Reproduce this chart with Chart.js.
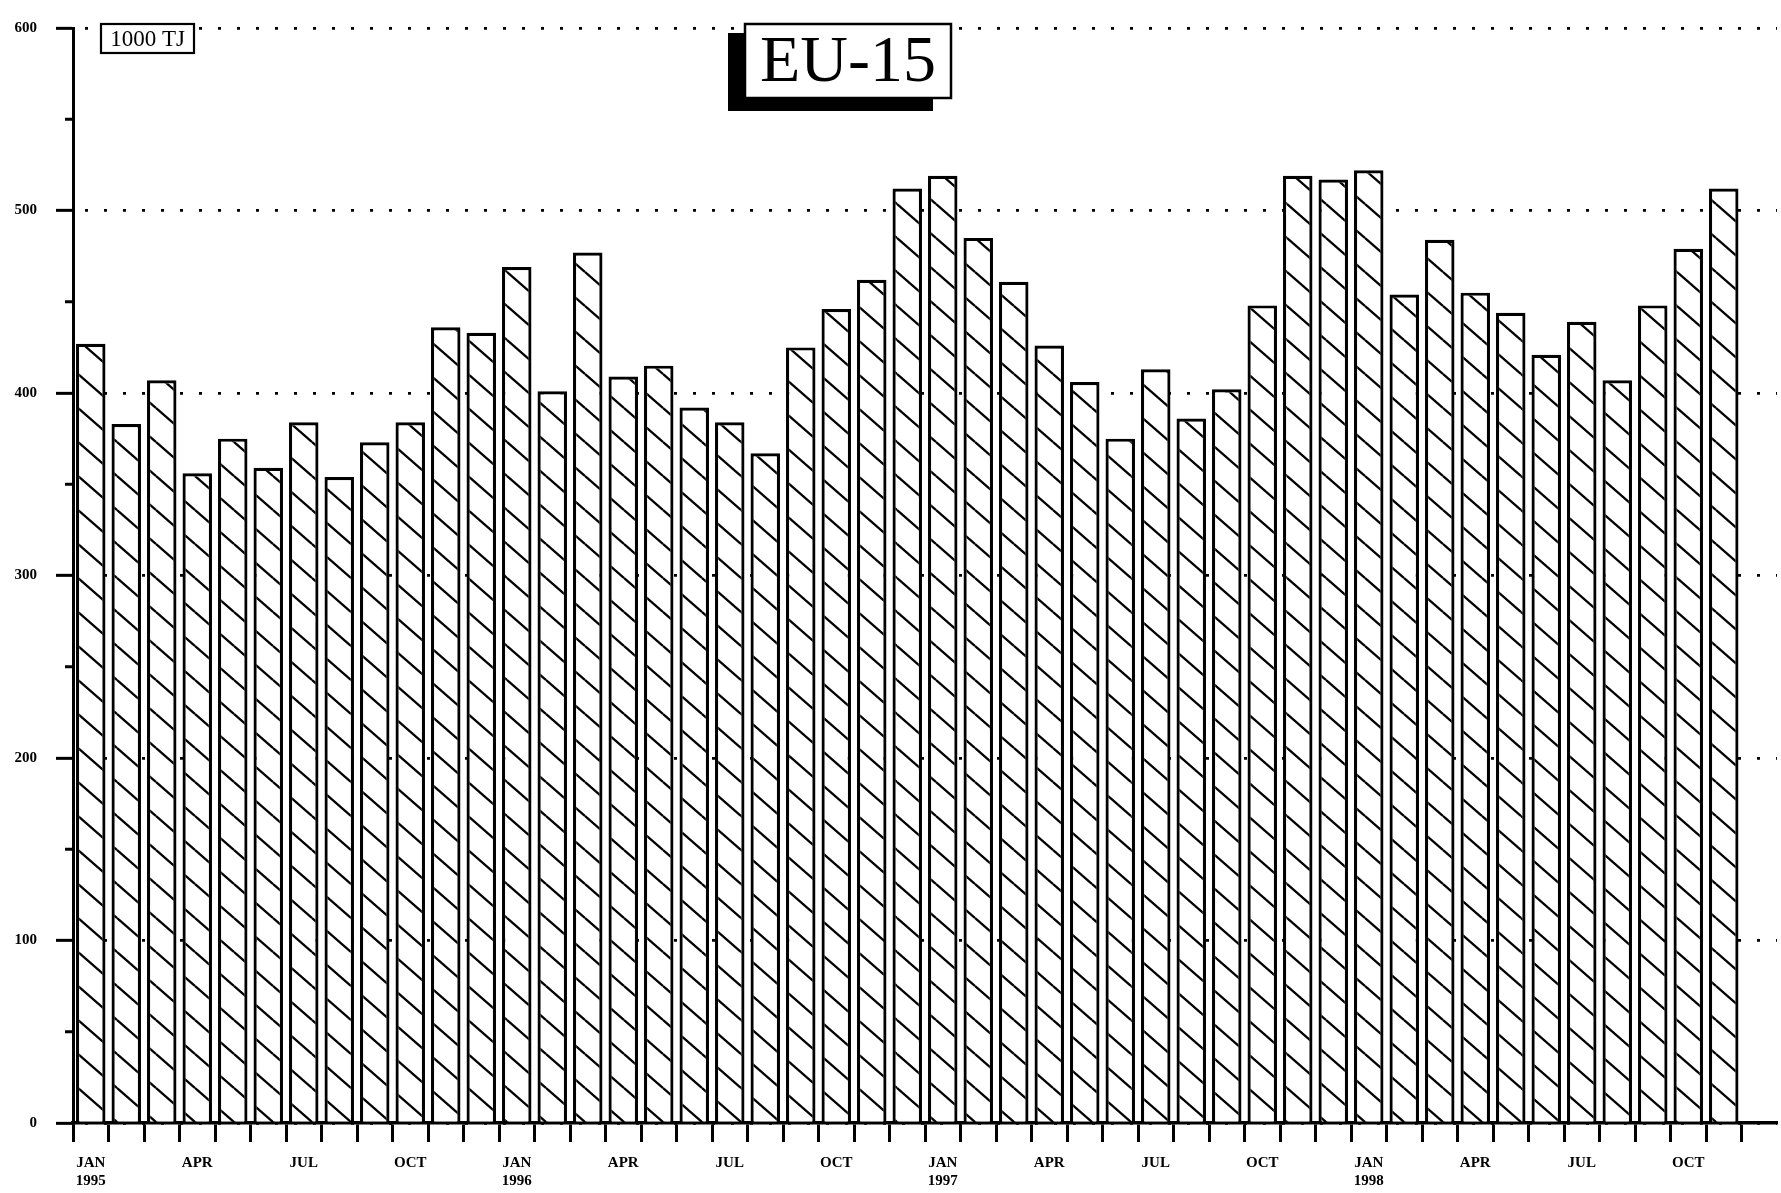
<!DOCTYPE html>
<html>
<head>
<meta charset="utf-8">
<title>EU-15</title>
<script src="https://cdn.jsdelivr.net/npm/chart.js@4.4.1/dist/chart.umd.min.js"></script>
<style>
  html, body { margin: 0; padding: 0; background: #fff; }
  #wrap { position: relative; width: 1781px; height: 1193px; }
</style>
</head>
<body>
<div id="wrap"><canvas id="chart"></canvas></div>
<script>
// ===== DATA =====
const monthNames = ['JAN', 'FEB', 'MAR', 'APR', 'MAY', 'JUN', 'JUL', 'AUG', 'SEP', 'OCT', 'NOV', 'DEC'];
const years = ['1995', '1996', '1997', '1998'];
const categories = years.flatMap(y => monthNames.map(m => m + ' ' + y));

// 1000 TJ per month
const values1995 = [427, 383, 407, 356, 375, 359, 384, 354, 373, 384, 436, 433];
const values1996 = [469, 401, 477, 409, 415, 392, 384, 367, 425, 446, 462, 512];
const values1997 = [519, 485, 461, 426, 406, 375, 413, 386, 402, 448, 519, 517];
const values1998 = [522, 454, 484, 455, 444, 421, 439, 407, 448, 479, 512]; // no Dec 1998

const yTicks = [0, 100, 200, 300, 400, 500, 600];
const unitLabel = '1000 TJ';
const titleText = 'EU-15';

// ===== HATCH PATTERN =====
const canvas = document.getElementById('chart');
function makeHatch() {
  const w = 39, h = 34;
  const c = document.createElement('canvas');
  c.width = w; c.height = h;
  const g = c.getContext('2d');
  g.fillStyle = '#fff';
  g.fillRect(0, 0, w, h);
  g.strokeStyle = '#000';
  g.lineWidth = 2.3;
  for (const dx of [-w, 0, w]) {
    for (const dy of [-h, 0, h]) {
      g.beginPath();
      g.moveTo(dx, dy);
      g.lineTo(dx + w, dy + h);
      g.stroke();
    }
  }
  return canvas.getContext('2d').createPattern(c, 'repeat');
}

// ===== EXTRAS: minor y ticks, unit box, title box =====
const extras = {
  id: 'extras',
  afterDraw(chart) {
    const ctx = chart.ctx;
    const y = chart.scales.y;
    const left = chart.chartArea.left;
    ctx.save();
    // minor ticks at the 50s
    ctx.strokeStyle = '#000';
    ctx.lineWidth = 3;
    for (let v = 50; v < 600; v += 100) {
      const py = y.getPixelForValue(v);
      ctx.beginPath();
      ctx.moveTo(left - 8, py);
      ctx.lineTo(left, py);
      ctx.stroke();
    }
    // unit box
    ctx.fillStyle = '#fff';
    ctx.fillRect(101, 24, 93, 29);
    ctx.lineWidth = 2.2;
    ctx.strokeRect(101, 24, 93, 29);
    ctx.fillStyle = '#000';
    ctx.font = '23px "Liberation Serif", "DejaVu Serif", serif';
    ctx.textAlign = 'center';
    ctx.textBaseline = 'middle';
    ctx.fillText(unitLabel, 147.5, 40);
    // title box with shadow
    ctx.fillStyle = '#000';
    ctx.fillRect(728, 33, 205, 78);
    ctx.fillStyle = '#fff';
    ctx.fillRect(745, 24, 206, 74);
    ctx.lineWidth = 2.5;
    ctx.strokeRect(745, 24, 206, 74);
    ctx.fillStyle = '#000';
    ctx.font = '66px "Liberation Serif", "DejaVu Serif", serif';
    ctx.fillText(titleText, 848, 64);
    ctx.restore();
  }
};

const serifBold = { family: '"Liberation Serif", "DejaVu Serif", serif', size: 15, weight: 'bold' };

new Chart(canvas, {
  type: 'bar',
  data: {
    labels: categories,
    datasets: [{
      data: [...values1995, ...values1996, ...values1997, ...values1998, null],
      backgroundColor: makeHatch(),
      borderColor: '#000',
      borderWidth: 3.2,
      borderSkipped: 'start',
      categoryPercentage: 1,
      barPercentage: 0.83
    }]
  },
  options: {
    responsive: true,
    maintainAspectRatio: false,
    animation: false,
    events: [],
    layout: { padding: { top: 13, right: 4, left: 0, bottom: 0 } },
    plugins: {
      legend: { display: false },
      tooltip: { enabled: false },
      title: { display: false }
    },
    scales: {
      x: {
        offset: true,
        grid: {
          offset: true,
          drawOnChartArea: false,
          drawTicks: true,
          tickLength: 19,
          tickWidth: 3,
          tickColor: c => c.type === 'tick' ? '#000' : 'rgba(0,0,0,0)'
        },
        border: { display: true, color: '#000', width: 3.5 },
        ticks: {
          autoSkip: false,
          maxRotation: 0,
          minRotation: 0,
          padding: 12,
          color: '#000',
          font: serifBold,
          callback: (val, i) => {
            if (i % 3 !== 0) return '';
            const m = monthNames[i % 12];
            return i % 12 === 0 ? [m, years[Math.floor(i / 12)]] : m;
          }
        },
        afterFit: s => { s.height = 70; }
      },
      y: {
        min: 0,
        max: 600,
        afterBuildTicks: s => { s.ticks = yTicks.map(v => ({ value: v })); },
        grid: {
          color: '#000',
          lineWidth: 2.7,
          tickLength: 17,
          tickWidth: 3,
          tickColor: '#000'
        },
        border: { display: true, color: '#000', width: 3, dash: [3, 16], dashOffset: 9 },
        ticks: {
          padding: 19,
          color: '#000',
          font: serifBold
        },
        afterFit: s => { s.width = 73; }
      }
    }
  },
  plugins: [extras]
});
</script>
</body>
</html>
